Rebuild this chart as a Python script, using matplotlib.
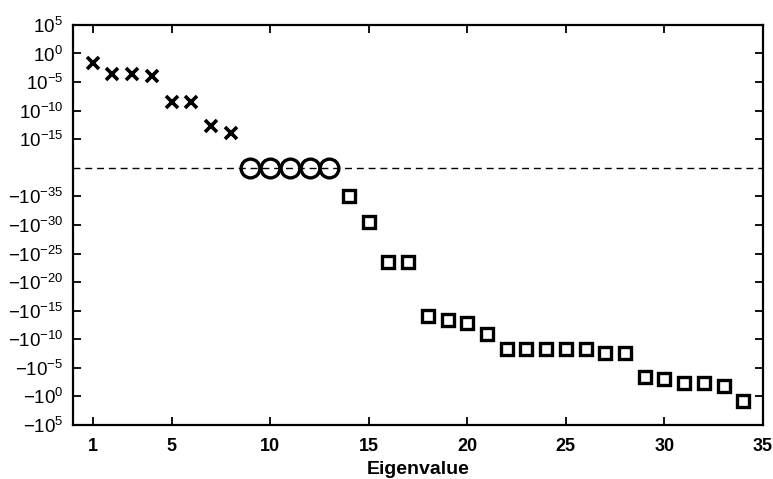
import numpy as np
import matplotlib
matplotlib.use('Agg')
import matplotlib.pyplot as plt
from matplotlib.ticker import NullLocator

plt.rcParams['font.family'] = ['Liberation Sans', 'DejaVu Sans']
plt.rcParams['mathtext.fontset'] = 'custom'
plt.rcParams['mathtext.rm'] = 'Liberation Sans'
plt.rcParams['mathtext.it'] = 'Liberation Sans:italic'
plt.rcParams['mathtext.bf'] = 'Liberation Sans:bold'

# positive eigenvalues (log10), zero eigenvalues, negative eigenvalues (log10 of |v|)
pos_idx = [1, 2, 3, 4, 5, 6, 7, 8]
pos_exp = [-1.7, -3.6, -3.6, -3.9, -8.5, -8.5, -12.6, -13.9]
zero_idx = [9, 10, 11, 12, 13]
neg_idx = list(range(14, 35))
neg_exp = [-35.0, -30.5, -23.5, -23.5, -14.1, -13.3, -12.9, -10.9,
           -8.3, -8.3, -8.3, -8.3, -8.3, -7.6, -7.6,
           -3.4, -3.0, -2.3, -2.3, -1.8, 0.8]

ytick_vals = [1e5, 1e0, 1e-5, 1e-10, 1e-15,
              -1e-35, -1e-30, -1e-25, -1e-20, -1e-15, -1e-10, -1e-5, -1e0, -1e5]
ytick_labels = ['$10^{5}$', '$10^{0}$', '$10^{-5}$', '$10^{-10}$', '$10^{-15}$',
                '$-10^{-35}$', '$-10^{-30}$', '$-10^{-25}$', '$-10^{-20}$', '$-10^{-15}$',
                '$-10^{-10}$', '$-10^{-5}$', '$-10^{0}$', '$-10^{5}$']
xticks = [1, 5, 10, 15, 20, 25, 30, 35]

ZERO = -20.0  # axis position of 0


def fwd(v):
    v = np.asarray(v, dtype=float)
    with np.errstate(all='ignore'):
        a = np.log10(np.abs(v))
        p = np.where(v > 0, np.maximum(a, ZERO),
                     np.where(v < 0, np.minimum(-60.0 - a, ZERO), ZERO))
    return p


def inv(p):
    p = np.asarray(p, dtype=float)
    with np.errstate(all='ignore'):
        return np.where(p > ZERO, 10.0 ** p,
                        np.where(p < ZERO, -10.0 ** (-60.0 - p), 0.0))


pos_vals = 10.0 ** np.array(pos_exp)
zero_vals = np.zeros(len(zero_idx))
neg_vals = -(10.0 ** np.array(neg_exp))

fig = plt.figure(figsize=(7.73, 4.79), dpi=100)
ax = fig.add_axes([0.0944, 0.1127, 0.8926, 0.8353])
ax.set_yscale('function', functions=(fwd, inv))

ax.axhline(0, color='black', lw=1.0, ls=(0, (5, 3.5)), zorder=1)
ax.plot(pos_idx, pos_vals, 'x', color='black', ms=8, mew=2.6, zorder=3)
ax.plot(zero_idx, zero_vals, 'o', color='black', mfc='none', ms=13.5, mew=2.4, zorder=3)
ax.plot(neg_idx, neg_vals, 's', color='black', mfc='none', ms=9, mew=2.4, zorder=3)

ax.set_xlim(0, 35)
ax.set_ylim(-1e5, 1e5)
ax.set_xticks(xticks)
ax.set_xticklabels([str(t) for t in xticks], fontweight='bold', fontsize=13)
ax.set_yticks(ytick_vals)
ax.set_yticklabels(ytick_labels, fontsize=13.5)
ax.yaxis.set_minor_locator(NullLocator())
ax.xaxis.set_minor_locator(NullLocator())
ax.tick_params(direction='in', length=6, width=1.3, top=True, right=True)
ax.tick_params(axis='x', pad=9)
ax.tick_params(axis='y', pad=7)
for s in ax.spines.values():
    s.set_linewidth(1.6)

ax.set_xlabel('Eigenvalue', fontsize=14, fontweight='bold', labelpad=5)

fig.savefig('out.png', dpi=100)
